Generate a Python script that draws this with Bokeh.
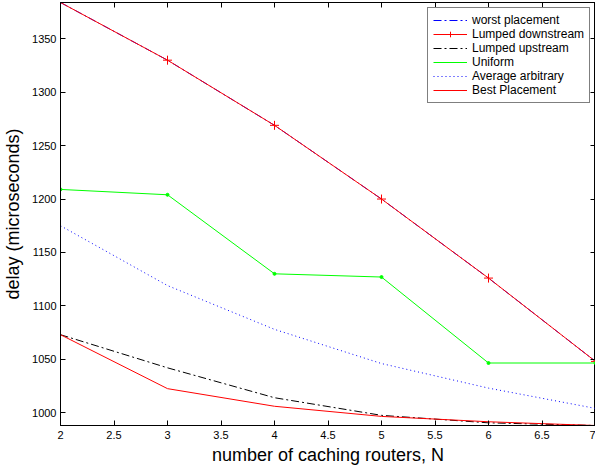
from bokeh.plotting import figure
from bokeh.models import Range1d, LinearAxis, FixedTicker, Legend, LegendItem
from bokeh.embed import file_html
from bokeh.resources import INLINE

# ---- data ----
N = [2, 3, 4, 5, 6, 7]
worst_placement = [1384, 1330, 1269, 1200, 1126, 1048]
lumped_downstream = [1384, 1330, 1269, 1200, 1126, 1048]
lumped_upstream = [1073, 1042, 1014, 997.5, 990.5, 988]
uniform = [1209, 1204, 1130, 1127, 1046.5, 1046.5]
average_arbitrary = [1175, 1119, 1078, 1046, 1023, 1004]
best_placement = [1073, 1022.5, 1006, 996.5, 991.5, 988]

x_ticks = [2, 2.5, 3, 3.5, 4, 4.5, 5, 5.5, 6, 6.5, 7]
y_ticks = [1000, 1050, 1100, 1150, 1200, 1250, 1300, 1350]

FONT = "Liberation Sans"

p = figure(width=595, height=471, output_backend="svg", toolbar_location=None,
           x_range=Range1d(2, 7), y_range=Range1d(988, 1384),
           min_border_left=60, min_border_right=0, min_border_top=2, min_border_bottom=46)
p.background_fill_color = "white"
p.border_fill_color = "white"
p.outline_line_color = "black"
p.outline_line_width = 1
p.grid.visible = False

def style_axis(ax, ticks, labels=True):
    ax.ticker = FixedTicker(ticks=ticks)
    ax.major_tick_in = 5
    ax.major_tick_out = 0
    ax.minor_tick_line_color = None
    ax.axis_line_color = "black"
    ax.major_tick_line_color = "black"
    ax.major_label_text_font = FONT
    ax.major_label_text_color = "black"
    ax.major_label_text_font_size = "11px"
    if not labels:
        ax.major_label_overrides = {t: "" for t in ticks}
        ax.major_label_standoff = 0

style_axis(p.xaxis[0], x_ticks)
style_axis(p.yaxis[0], y_ticks)
p.xaxis[0].major_label_standoff = 5
p.yaxis[0].major_label_standoff = 4
p.xaxis[0].axis_label = "number of caching routers, N"
p.yaxis[0].axis_label = "delay (microseconds)"
for ax in (p.xaxis[0], p.yaxis[0]):
    ax.axis_label_text_font = FONT
    ax.axis_label_text_font_size = "18px"
    ax.axis_label_text_font_style = "normal"
    ax.axis_label_text_color = "black"
p.xaxis[0].axis_label_standoff = 3
p.yaxis[0].axis_label_standoff = 6

top_ax = LinearAxis()
style_axis(top_ax, x_ticks, labels=False)
p.add_layout(top_ax, "above")
right_ax = LinearAxis()
style_axis(right_ax, y_ticks, labels=False)
p.add_layout(right_ax, "right")

DASHDOT = "8 3 2 3"
r_worst = p.line(N, worst_placement, line_color="#0000ff", line_width=1, line_dash=DASHDOT)
r_down = p.line(N, lumped_downstream, line_color="#ff0000", line_width=1)
r_down_m = p.scatter(N, lumped_downstream, marker="cross", size=9, line_color="#ff0000", line_width=1)
r_up = p.line(N, lumped_upstream, line_color="black", line_width=1, line_dash=DASHDOT)
r_uni = p.line(N, uniform, line_color="#00ff00", line_width=1)
r_uni_m = p.scatter(N, uniform, marker="circle", size=3, line_color="#00ff00", fill_color="#00ff00")
r_avg = p.line(N, average_arbitrary, line_color="#0000ff", line_width=1, line_dash="1 3")
r_best = p.line(N, best_placement, line_color="#ff0000", line_width=1)

legend = Legend(items=[
    LegendItem(label="worst placement", renderers=[r_worst]),
    LegendItem(label="Lumped downstream", renderers=[r_down, r_down_m]),
    LegendItem(label="Lumped upstream", renderers=[r_up]),
    LegendItem(label="Uniform", renderers=[r_uni]),
    LegendItem(label="Average arbitrary", renderers=[r_avg]),
    LegendItem(label="Best Placement", renderers=[r_best]),
], location=(367, 322))
legend.margin = 0
legend.padding = 5
legend.spacing = 0
legend.glyph_width = 34
legend.glyph_height = 14
legend.label_height = 14
legend.label_standoff = 5
legend.label_text_font = FONT
legend.label_text_font_size = "12px"
legend.label_text_color = "black"
legend.border_line_color = "black"
legend.border_line_width = 1
legend.background_fill_color = "white"
legend.background_fill_alpha = 1
p.add_layout(legend, "center")

open("out.html", "w").write(file_html(p, INLINE))
